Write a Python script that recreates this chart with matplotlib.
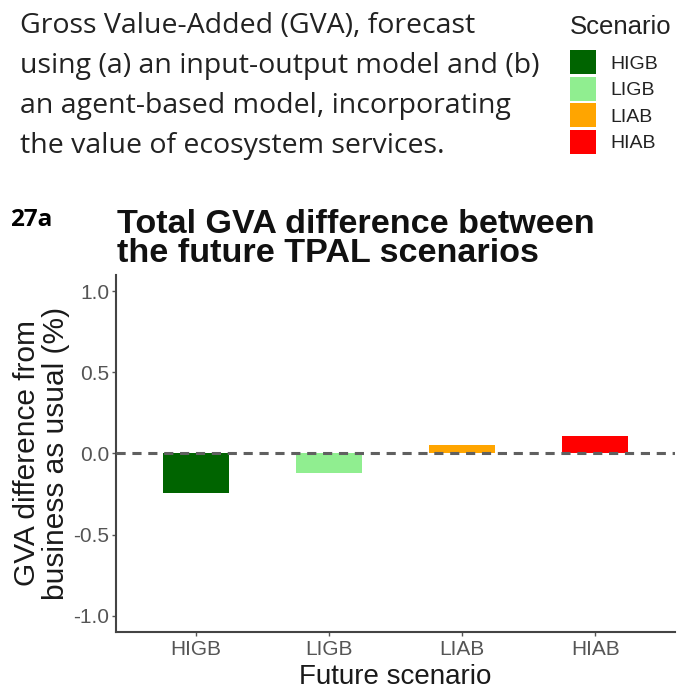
import matplotlib
matplotlib.use("Agg")
import matplotlib.pyplot as plt
from matplotlib.patches import Patch

scenarios = ["HIGB", "LIGB", "LIAB", "HIAB"]
gva_diff = [-0.245, -0.12, 0.055, 0.105]
colors = ["#006400", "#90EE90", "#FFA500", "#FF0000"]
yticks = [-1.0, -0.5, 0.0, 0.5, 1.0]

fig = plt.figure(figsize=(6.85, 6.89), dpi=100)
ax = fig.add_axes([116/685, 1-632/689, (675-116)/685, (632-275)/689])

x = list(range(len(scenarios)))
ax.bar(x, gva_diff, width=0.5, color=colors, zorder=2)
ax.axhline(0, color="#606060", linestyle=(0, (3, 2.2)), linewidth=2.2, zorder=3)
ax.set_xlim(-0.6, 3.6)
ax.set_ylim(-1.1, 1.1)
ax.set_xticks(x)
ax.set_xticklabels(scenarios)
ax.set_yticks(yticks)
ax.set_yticklabels([f"{v:.1f}" for v in yticks])
for s in ["top", "right"]:
    ax.spines[s].set_visible(False)
for s in ["left", "bottom"]:
    ax.spines[s].set_color("#444444")
    ax.spines[s].set_linewidth(1.5)
ax.tick_params(axis="both", colors="#555555", labelsize=15, length=3, width=1)
ax.tick_params(axis="x", pad=3)
ax.tick_params(axis="y", pad=2)
for lab in ax.get_xticklabels() + ax.get_yticklabels():
    lab.set_fontfamily("Liberation Sans")
    lab.set_color("#555555")
ax.set_xlabel("Future scenario", fontsize=20, family="Liberation Sans", color="#1a1a1a", labelpad=3)
ax.set_ylabel("GVA difference from\nbusiness as usual (%)", fontsize=21.5, family="Liberation Sans",
              color="#1a1a1a", linespacing=1.05, labelpad=2)

# Title and panel label
fig.text(117/685, 1-262/689, "Total GVA difference between\nthe future TPAL scenarios",
         fontsize=24.6, fontweight="bold", family="Liberation Sans", color="#111111",
         va="baseline", ha="left", linespacing=0.93)
fig.text(10/685, 1-226/689, "27a", fontsize=17.5, fontweight="bold", family="Open Sans",
         color="#000000", va="baseline", ha="left")

# Caption
caption = ["Gross Value-Added (GVA), forecast",
           "using (a) an input-output model and (b)",
           "an agent-based model, incorporating",
           "the value of ecosystem services."]
for i, line in enumerate(caption):
    fig.text(20/685, 1-(33+40*i)/689, line, fontsize=20.5, family="Open Sans",
             color="#222222", va="baseline", ha="left")

# Legend
handles = [Patch(facecolor=c, edgecolor="none", label=s) for s, c in zip(scenarios, colors)]
leg = fig.legend(handles=handles, title="Scenario", loc="upper left",
                 bbox_to_anchor=(570/685, 1-15/689), frameon=False,
                 handlelength=1.34, handleheight=1.52, labelspacing=0.136,
                 handletextpad=0.72, borderaxespad=0, borderpad=0,
                 prop={"family": "Liberation Sans", "size": 14})
leg.get_title().set_fontsize(18.5)
leg.get_title().set_family("Liberation Sans")
leg.get_title().set_color("#222222")
leg._legend_box.align = "left"
leg._legend_box.sep = 8
for t in leg.get_texts():
    t.set_color("#222222")

fig.savefig("out.png", dpi=100)
